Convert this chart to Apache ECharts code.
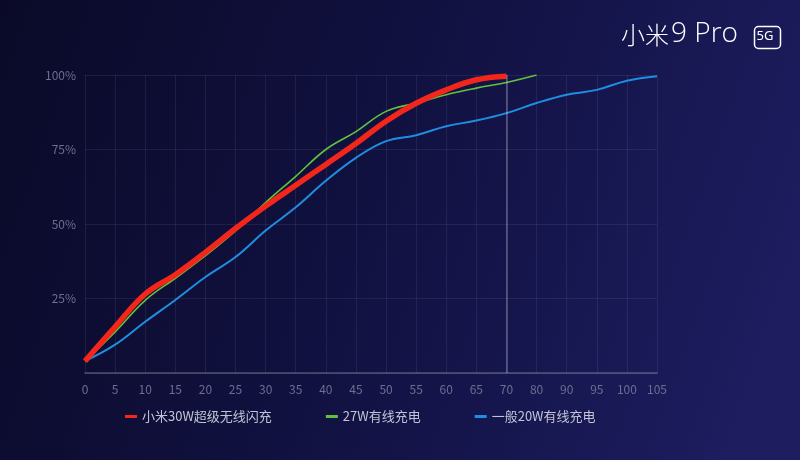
<!DOCTYPE html>
<html><head><meta charset="utf-8">
<script src="https://cdn.jsdelivr.net/npm/echarts@6/dist/echarts.min.js"></script>
<style>html,body{margin:0;padding:0;background:#0c0c2c}#c{width:800px;height:460px}</style>
</head><body><div id="c"></div>
<script>
var categories = ['0','5','10','15','20','25','30','35','40','45','50','55','60','65','70','80','90','95','100','105'];
var yTicks = ['0%','25%','50%','75%','100%'];
var seriesNames = ['小米30W超级无线闪充','27W有线充电','一般20W有线充电'];
var mi30W = [4,15.5,26.5,33,40.5,48.5,56,63,70,77,84.5,90.5,95,98.4,99.6];
var wired27W = [4,13.8,24.4,31.8,39.4,47.7,57.2,66,75,81,87.8,90.6,93.4,95.6,97.5,100];
var wired20W = [4,9.5,17.2,24.5,32.2,38.9,47.8,55.6,64.5,72.2,77.8,79.8,82.8,84.7,87.2,90.6,93.4,95,98.1,99.6];

var chart = echarts.init(document.getElementById('c'), null, {renderer:'canvas'});
var gridLine = {lineStyle:{color:'rgba(255,255,255,0.07)',width:1}};
chart.setOption({
  backgroundColor: new echarts.graphic.LinearGradient(0,0,1,0.6,[
    {offset:0,color:'#0a0a28'},{offset:0.55,color:'#121244'},{offset:1,color:'#1d1d60'}]),
  animation:false,
  textStyle:{fontFamily:'"Noto Sans CJK SC","Noto Sans",sans-serif'},
  grid:{left:85,right:143,top:75,bottom:87},
  legend:{
    left:120, top:405, itemWidth:12, itemHeight:3, itemGap:54,
    icon:'rect',
    textStyle:{color:'#c4c4d6',fontSize:13,fontFamily:'"Noto Sans CJK SC",sans-serif'},
    data:seriesNames
  },
  xAxis:{
    type:'category', data:categories, boundaryGap:false,
    axisLine:{lineStyle:{color:'rgba(255,255,255,0.25)',width:1.5}},
    axisTick:{show:false},
    axisLabel:{color:'#6e6e92',fontSize:12,margin:10},
    splitLine:{show:true,lineStyle:gridLine.lineStyle}
  },
  yAxis:{
    type:'value', min:0, max:100, interval:25,
    axisLine:{show:false}, axisTick:{show:false},
    axisLabel:{color:'#6e6e92',fontSize:12,margin:9,formatter:function(v){return v===0?'':v+'%';}},
    splitLine:{lineStyle:gridLine.lineStyle}
  },
  graphic:[
    {type:'text',left:621,top:23,style:{text:'小米',fill:'#ffffff',font:'300 24px "Noto Sans CJK SC",sans-serif'}},
    {type:'text',left:671,top:20,style:{text:'9 Pro',fill:'#ffffff',font:'300 28px "Open Sans",sans-serif'}},
    {type:'rect',left:752,top:24,shape:{width:26,height:22,r:4},style:{fill:'none',stroke:'#ffffff',lineWidth:1.5}},
    {type:'text',x:765,y:36,style:{text:'5G',fill:'#ffffff',align:'center',verticalAlign:'middle',font:'400 13px "Noto Sans",sans-serif'}}
  ],
  series:[
    {name:seriesNames[2],type:'line',data:wired20W,smooth:0.4,showSymbol:false,color:'#1f8ee0',lineStyle:{width:2,color:'#1f8ee0'},z:2},
    {name:seriesNames[1],type:'line',data:wired27W,smooth:0.4,showSymbol:false,color:'#62c23e',lineStyle:{width:1.6,color:'#62c23e'},z:3},
    {name:seriesNames[0],type:'line',data:mi30W,smooth:0.4,showSymbol:false,color:'#f2261b',lineStyle:{width:5.5,color:'#f2261b'},z:4,
      markLine:{silent:true,symbol:'none',label:{show:false},lineStyle:{color:'rgba(255,255,255,0.3)',type:'solid',width:1.5},data:[{xAxis:'70'}]}}
  ]
});
</script></body></html>
